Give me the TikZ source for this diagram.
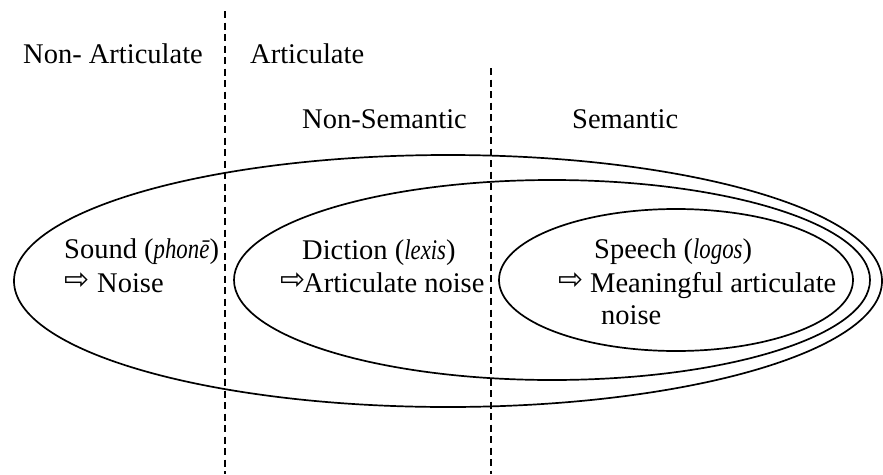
\documentclass[tikz,border=0pt]{standalone}
\usepackage{fontspec}
\setmainfont[ItalicFeatures={FakeStretch=0.8}]{Liberation Serif}
\newfontfamily\symfont{DejaVu Sans}
\begin{document}
\begin{tikzpicture}[x=1pt,y=-1pt,
  lbl/.style={anchor=base west, inner sep=0pt, font=\fontsize{28.5}{34}\selectfont},
  arr/.style={anchor=base west, inner sep=0pt, font=\symfont\fontsize{30}{34}\selectfont},
  ring/.style={draw, line width=1.7pt},
  divider/.style={line width=1.6pt, dash pattern=on 7pt off 4.5pt}]
\useasboundingbox (0,0) rectangle (883,474);
% dividers
\coordinate (d1top) at (225,11);
\coordinate (d1bot) at (225,474);
\coordinate (d2top) at (491,68);
\coordinate (d2bot) at (491,474);
\draw[divider] (d1top) -- (d1bot);
\draw[divider] (d2top) -- (d2bot);
% ellipses
\draw[ring] (448,281) ellipse [x radius=434pt, y radius=126pt];
\draw[ring] (552,280) ellipse [x radius=318pt, y radius=100pt];
\draw[ring] (676,280) ellipse [x radius=177pt, y radius=71pt];
% headings
\node[lbl] (nonart) at (23,63) {Non- Articulate};
\node[lbl] (art) at (250,63) {Articulate};
\node[lbl] (nonsem) at (302,128) {Non-Semantic};
\node[lbl] (sem) at (572,128) {Semantic};
% sound
\node[lbl] (sound) at (64,258) {Sound (\textit{phonē})};
\node[arr] (a1) at (64,289) {⇨};
\node[lbl] (noise1) at (97,292) {Noise};
% diction
\node[lbl] (diction) at (302,259) {Diction (\textit{lexis})};
\node[arr] (a2) at (280,289) {⇨};
\node[lbl] (artnoise) at (303,292) {Articulate noise};
% speech
\node[lbl] (speech) at (594,258) {Speech (\textit{logos})};
\node[arr] (a3) at (558,289) {⇨};
\node[lbl] (mean) at (590,292) {Meaningful articulate};
\node[lbl] (noise3) at (601,324) {noise};
\end{tikzpicture}
\end{document}
